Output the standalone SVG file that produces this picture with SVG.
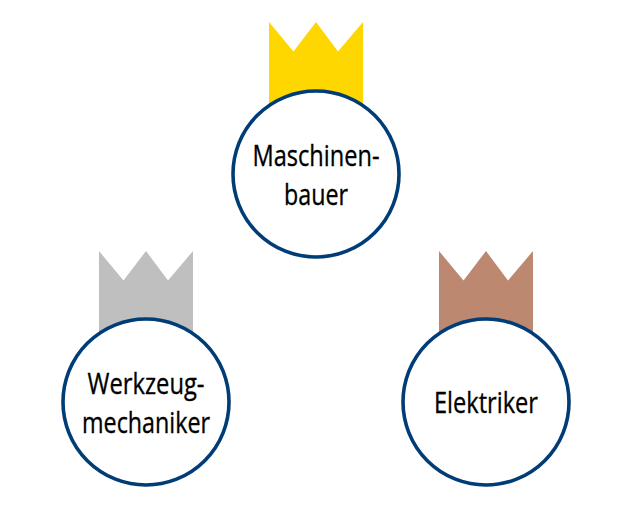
<svg xmlns="http://www.w3.org/2000/svg" width="635" height="508" viewBox="0 0 635 508">
<style>
.c{fill:#fff;stroke:#003c76;stroke-width:3.6}
.t{font-family:"Open Sans","Noto Sans",sans-serif;font-size:30px;fill:#000;stroke:#000;stroke-width:.35;text-anchor:middle}
</style>
<rect width="635" height="508" fill="#fff"/>
<g id="node-maschinenbauer">
<path d="M269 110V22L293.500 51.500L316 22L338 51.500L363 22V110Z" fill="#ffd700"/>
<circle class="c" cx="316" cy="174" r="83"/>
<text class="t" x="316" y="166" textLength="127" lengthAdjust="spacingAndGlyphs">Maschinen-</text>
<text class="t" x="316" y="205" textLength="64" lengthAdjust="spacingAndGlyphs">bauer</text>
</g>
<g id="node-werkzeugmechaniker">
<path d="M99 340V251L123.500 280.500L146 251L168 280.500L193 251V340Z" fill="#bfbfbf"/>
<circle class="c" cx="146" cy="402" r="83"/>
<text class="t" x="146" y="394" textLength="117" lengthAdjust="spacingAndGlyphs">Werkzeug-</text>
<text class="t" x="146" y="433" textLength="128" lengthAdjust="spacingAndGlyphs">mechaniker</text>
</g>
<g id="node-elektriker">
<path d="M439 340V251L463.500 280.500L486 251L508 280.500L533 251V340Z" fill="#bc8870"/>
<circle class="c" cx="486" cy="402" r="83"/>
<text class="t" x="486" y="413" textLength="104" lengthAdjust="spacingAndGlyphs">Elektriker</text>
</g>
<g id="connectors"/>
</svg>
